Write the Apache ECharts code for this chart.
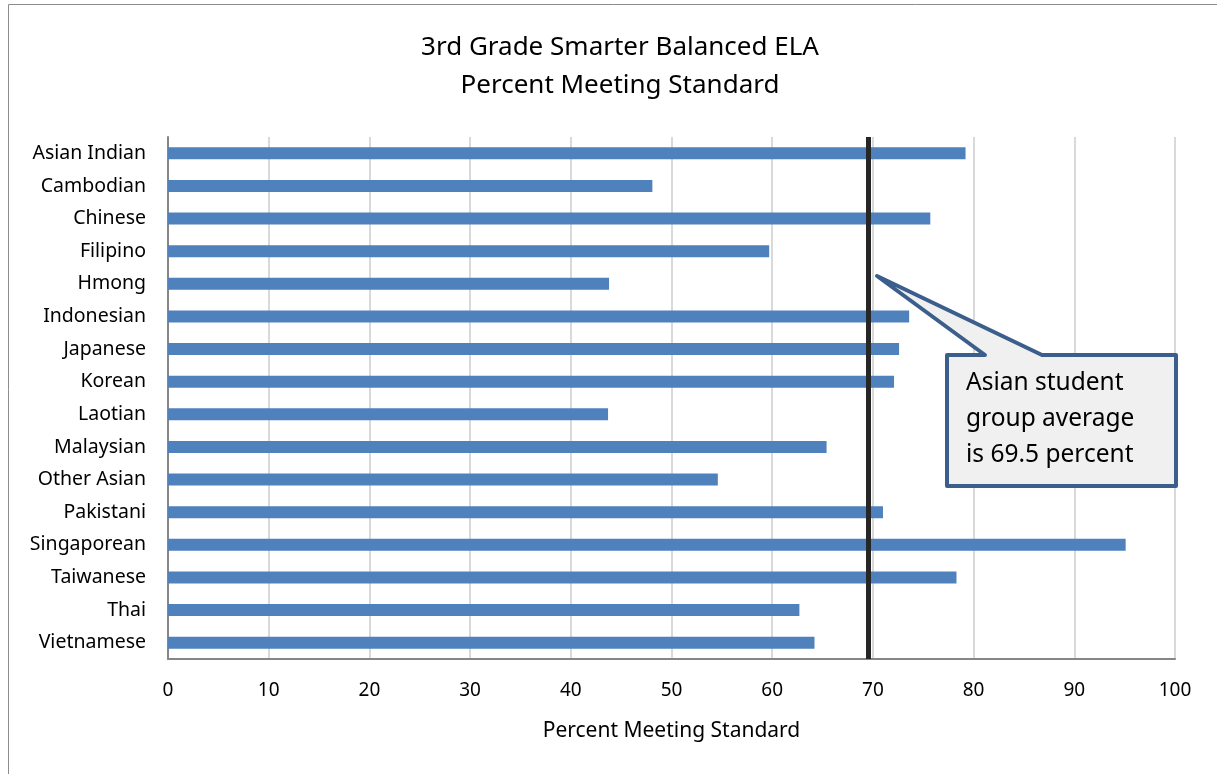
<!DOCTYPE html>
<html>
<head>
<meta charset="utf-8">
<script src="https://cdn.jsdelivr.net/npm/echarts@6/dist/echarts.min.js"></script>
<style>
  html, body { margin: 0; padding: 0; background: #fff; }
  #chart { width: 1217px; height: 774px; }
</style>
</head>
<body>
<div id="chart"></div>
<script>
// data
var groups = ["Asian Indian", "Cambodian", "Chinese", "Filipino", "Hmong", "Indonesian",
  "Japanese", "Korean", "Laotian", "Malaysian", "Other Asian", "Pakistani",
  "Singaporean", "Taiwanese", "Thai", "Vietnamese"];
var percentMeeting = [79.2, 48.1, 75.7, 59.7, 43.8, 73.6, 72.6, 72.1, 43.7, 65.4, 54.6, 71.0, 95.1, 78.3, 62.7, 64.2];
var groupAverage = 69.5;
var xTicks = [0, 10, 20, 30, 40, 50, 60, 70, 80, 90, 100];

var font = "Noto Sans";
var chart = echarts.init(document.getElementById("chart"));

chart.setOption({
  backgroundColor: "#fff",
  animation: false,
  textStyle: { fontFamily: font },
  title: {
    text: "3rd Grade Smarter Balanced ELA\nPercent Meeting Standard",
    left: 615,
    top: 24,
    textAlign: "center",
    textStyle: { fontSize: 26, fontWeight: "normal", color: "#000", lineHeight: 38, fontFamily: font }
  },
  grid: { left: 168, right: 42, top: 137, bottom: 115, containLabel: false },
  xAxis: {
    type: "value",
    min: xTicks[0],
    max: xTicks[xTicks.length - 1],
    interval: 10,
    name: "Percent Meeting Standard",
    nameLocation: "middle",
    nameGap: 62,
    nameTextStyle: { fontSize: 21, color: "#000" },
    axisLine: { show: true, lineStyle: { color: "#868686", width: 2 } },
    axisTick: { show: false },
    axisLabel: { fontSize: 19, color: "#000", margin: 22 },
    splitLine: { show: true, lineStyle: { color: "#d9d9d9", width: 2 } }
  },
  yAxis: {
    type: "category",
    data: groups,
    inverse: true,
    axisLine: { show: true, lineStyle: { color: "#868686", width: 2 } },
    axisTick: { show: false },
    axisLabel: { fontSize: 19.5, color: "#000", margin: 22 },
    splitLine: { show: false }
  },
  series: [
    {
      type: "bar",
      data: percentMeeting,
      barWidth: 12,
      itemStyle: { color: "#4f81bd" },
      markLine: {
        silent: true,
        symbol: ["none", "none"],
        label: { show: false },
        lineStyle: { color: "#262626", width: 5, type: "solid" },
        data: [{ xAxis: groupAverage }]
      }
    }
  ],
  graphic: [
    {
      type: "rect",
      shape: { x: 8.5, y: 4.5, width: 1230, height: 800 },
      style: { fill: "none", stroke: "#8c8c8c", lineWidth: 1 },
      silent: true
    },
    {
      type: "polygon",
      shape: {
        points: [[947, 355], [985, 355], [877, 276], [1042, 355], [1176, 355], [1176, 486], [947, 486]]
      },
      style: { fill: "#f0f0f0", stroke: "#3b5e8c", lineWidth: 4, lineJoin: "round" },
      z: 100
    },
    {
      type: "text",
      left: 966,
      top: 365,
      style: {
        text: "Asian student\ngroup average\nis 69.5 percent",
        font: "24.5px " + font,
        fill: "#000",
        lineHeight: 36
      },
      z: 101
    }
  ]
});
</script>
</body>
</html>
